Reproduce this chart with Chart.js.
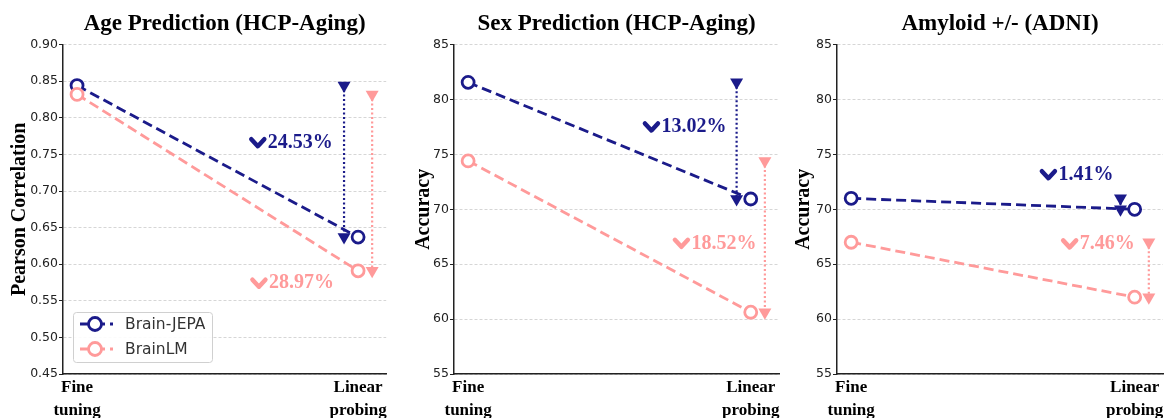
<!DOCTYPE html>
<html>
<head>
<meta charset="utf-8">
<script src="https://cdn.jsdelivr.net/npm/chart.js@4/dist/chart.umd.min.js"></script>
<style>
  html, body { margin: 0; padding: 0; background: #fff; }
  #wrap { position: relative; width: 1173px; height: 418px; }
  #wrap canvas { position: absolute; top: 0; }
</style>
</head>
<body>
<div id="wrap">
  <canvas id="agePanel" width="395" height="418" style="left:0px"></canvas>
  <canvas id="sexPanel" width="395" height="418" style="left:395px"></canvas>
  <canvas id="amyloidPanel" width="383" height="418" style="left:790px"></canvas>
</div>
<script>
// ---- data ----
const categories = [["Fine", "tuning"], ["Linear", "probing"]];
const seriesNames = ["Brain-JEPA", "BrainLM"];
const panelTitles = ["Age Prediction (HCP-Aging)", "Sex Prediction (HCP-Aging)", "Amyloid +/- (ADNI)"];
const yAxisTitles = ["Pearson Correlation", "Accuracy", "Accuracy"];

const ageJepa = [0.844, 0.637];
const ageLm = [0.832, 0.591];
const sexJepa = [81.56, 70.94];
const sexLm = [74.41, 60.63];
const amyloidJepa = [71.0, 70.0];
const amyloidLm = [67.0, 62.0];

const ageDrops = ["24.53%", "28.97%"];
const sexDrops = ["13.02%", "18.52%"];
const amyloidDrops = ["1.41%", "7.46%"];

const ageTicks = [0.45, 0.50, 0.55, 0.60, 0.65, 0.70, 0.75, 0.80, 0.85, 0.90];
const accuracyTicks = [55, 60, 65, 70, 75, 80, 85];

// x positions of the drop arrows (just beside "Linear probing")
const arrowX = [0.95, 1.05];

const BLUE = "#1b1b8a";
const PINK = "#ff9a9a";
const SERIF = "'Liberation Serif', 'Times New Roman', serif";
const SANS = "'DejaVu Sans', sans-serif";

// draws the "v 24.53%" drop labels
const dropLabels = {
  id: "dropLabels",
  afterDatasetsDraw(chart, args, opts) {
    const ctx = chart.ctx;
    const xs = chart.scales.x, ys = chart.scales.y;
    ctx.save();
    ctx.font = "bold 20px " + SERIF;
    ctx.textAlign = "right";
    ctx.textBaseline = "middle";
    (opts.items || []).forEach((it) => {
      const px = xs.getPixelForValue(it.x);
      const py = ys.getPixelForValue(it.y);
      ctx.fillStyle = it.color;
      ctx.fillText(it.text, px, py);
      const w = ctx.measureText(it.text).width;
      const cx = px - w - 10;
      ctx.strokeStyle = it.color;
      ctx.lineWidth = 4.5;
      ctx.lineCap = "round";
      ctx.lineJoin = "round";
      ctx.beginPath();
      ctx.moveTo(cx - 6.5, py - 3.5);
      ctx.lineTo(cx, py + 3.5);
      ctx.lineTo(cx + 6.5, py - 3.5);
      ctx.stroke();
    });
    ctx.restore();
  },
};

// legend box in the lower left of the plot
const innerLegend = {
  id: "innerLegend",
  afterDraw(chart, args, opts) {
    if (!opts.show) return;
    const ctx = chart.ctx;
    const area = chart.chartArea;
    const x0 = area.left + 10, y0 = area.bottom - 62, w = 139, h = 50;
    ctx.save();
    ctx.fillStyle = "rgba(255,255,255,0.9)";
    ctx.strokeStyle = "#d0d0d0";
    ctx.lineWidth = 1;
    ctx.beginPath();
    ctx.roundRect(x0 + 0.5, y0 + 0.5, w, h, 3);
    ctx.fill();
    ctx.stroke();
    const series = chart.data.datasets.filter((d) => !d.isArrow);
    series.forEach((d, i) => {
      const y = y0 + 12 + i * 25;
      ctx.strokeStyle = d.borderColor;
      ctx.lineWidth = 2.8;
      ctx.setLineDash([10, 5]);
      ctx.beginPath();
      ctx.moveTo(x0 + 7, y);
      ctx.lineTo(x0 + 40, y);
      ctx.stroke();
      ctx.setLineDash([]);
      ctx.fillStyle = "#fff";
      ctx.beginPath();
      ctx.arc(x0 + 22, y, 6.5, 0, Math.PI * 2);
      ctx.fill();
      ctx.stroke();
      ctx.fillStyle = "#333";
      ctx.font = "15.5px " + SANS;
      ctx.textBaseline = "middle";
      ctx.fillText(d.label, x0 + 52, y + 1);
    });
    ctx.restore();
  },
};

function seriesDataset(label, values, color, order) {
  return {
    label: label,
    data: values.map((v, i) => ({ x: i, y: v })),
    borderColor: color,
    borderWidth: 2.8,
    borderDash: [10, 5],
    pointRadius: 6,
    pointHoverRadius: 6,
    pointBorderWidth: 2.8,
    pointBorderColor: color,
    pointBackgroundColor: "#fff",
    order: order,
  };
}

function arrowDataset(values, color, x, order) {
  return {
    label: "",
    isArrow: true,
    data: values.map((v) => ({ x: x, y: v })),
    borderColor: color,
    borderWidth: 2.2,
    borderDash: [2, 2.5],
    pointStyle: "triangle",
    pointRotation: 180,
    pointRadius: 7.5,
    pointHoverRadius: 7.5,
    pointBorderWidth: 0,
    pointBackgroundColor: color,
    order: order,
  };
}

function makePanel(cfg) {
  const ctx = document.getElementById(cfg.canvas);
  return new Chart(ctx, {
    type: "line",
    data: {
      datasets: [
        seriesDataset(seriesNames[0], cfg.jepa, BLUE, 4),
        seriesDataset(seriesNames[1], cfg.lm, PINK, 3),
        arrowDataset(cfg.jepa, BLUE, arrowX[0], 2),
        arrowDataset(cfg.lm, PINK, arrowX[1], 1),
      ],
    },
    options: {
      responsive: false,
      animation: false,
      devicePixelRatio: 1,
      layout: { padding: { left: 0, right: cfg.padRight, top: 0, bottom: 0 } },
      plugins: {
        legend: { display: false },
        tooltip: { enabled: false },
        title: {
          display: true,
          text: cfg.title,
          fullSize: false,
          color: "#000",
          font: { family: SERIF, size: 23, weight: "bold" },
          padding: { top: 10, bottom: 7 },
        },
        dropLabels: {
          items: [
            { text: cfg.drops[0], color: BLUE, x: cfg.labelAt[0][0], y: cfg.labelAt[0][1] },
            { text: cfg.drops[1], color: PINK, x: cfg.labelAt[1][0], y: cfg.labelAt[1][1] },
          ],
        },
        innerLegend: { show: cfg.legend },
      },
      scales: {
        x: {
          type: "linear",
          min: -0.05,
          max: 1.1,
          afterBuildTicks: (s) => {
            s.ticks = categories.map((c, i) => ({ value: i }));
          },
          afterFit: (s) => {
            s.height = 44;
          },
          ticks: {
            autoSkip: false,
            maxRotation: 0,
            padding: -5,
            color: "#000",
            font: { family: SERIF, size: 17, weight: "bold", lineHeight: 1.3 },
            callback: (v, i) => categories[i],
          },
          grid: { display: false },
          border: { display: true, color: "#222", width: 1.5 },
        },
        y: {
          min: cfg.ticks[0],
          max: cfg.ticks[cfg.ticks.length - 1],
          afterBuildTicks: (s) => {
            s.ticks = cfg.ticks.map((v) => ({ value: v }));
          },
          afterFit: (s) => {
            s.width = cfg.yAxisWidth;
          },
          ticks: {
            padding: 1,
            color: "#222",
            font: { family: SANS, size: 12.5 },
            callback: (v) => v.toFixed(cfg.decimals),
          },
          grid: {
            color: "#cccccc",
            lineWidth: 0.8,
            tickLength: 4,
            tickColor: "#222",
            tickWidth: 1,
            tickBorderDash: [],
          },
          border: { display: true, color: "#222", width: 1.5, dash: [3, 2] },
          title: {
            display: true,
            text: cfg.yTitle,
            color: "#000",
            font: { family: SERIF, size: 20, weight: "bold" },
            padding: { top: cfg.yTitlePad, bottom: 0 },
          },
        },
      },
    },
    plugins: [dropLabels, innerLegend],
  });
}

makePanel({
  canvas: "agePanel", title: panelTitles[0], yTitle: yAxisTitles[0],
  jepa: ageJepa, lm: ageLm, drops: ageDrops, ticks: ageTicks, decimals: 2,
  yAxisWidth: 63, padRight: 7, yTitlePad: 8, legend: true,
  labelAt: [[0.91, 0.766], [0.914, 0.574]],
});
makePanel({
  canvas: "sexPanel", title: panelTitles[1], yTitle: yAxisTitles[1],
  jepa: sexJepa, lm: sexLm, drops: sexDrops, ticks: accuracyTicks, decimals: 0,
  yAxisWidth: 59, padRight: 11, yTitlePad: 17, legend: false,
  labelAt: [[0.914, 77.5], [1.02, 66.9]],
});
makePanel({
  canvas: "amyloidPanel", title: panelTitles[2], yTitle: yAxisTitles[2],
  jepa: amyloidJepa, lm: amyloidLm, drops: amyloidDrops, ticks: accuracyTicks, decimals: 0,
  yAxisWidth: 47, padRight: 10, yTitlePad: 2, legend: false,
  labelAt: [[0.925, 73.15], [1.0, 66.85]],
});
</script>
</body>
</html>
